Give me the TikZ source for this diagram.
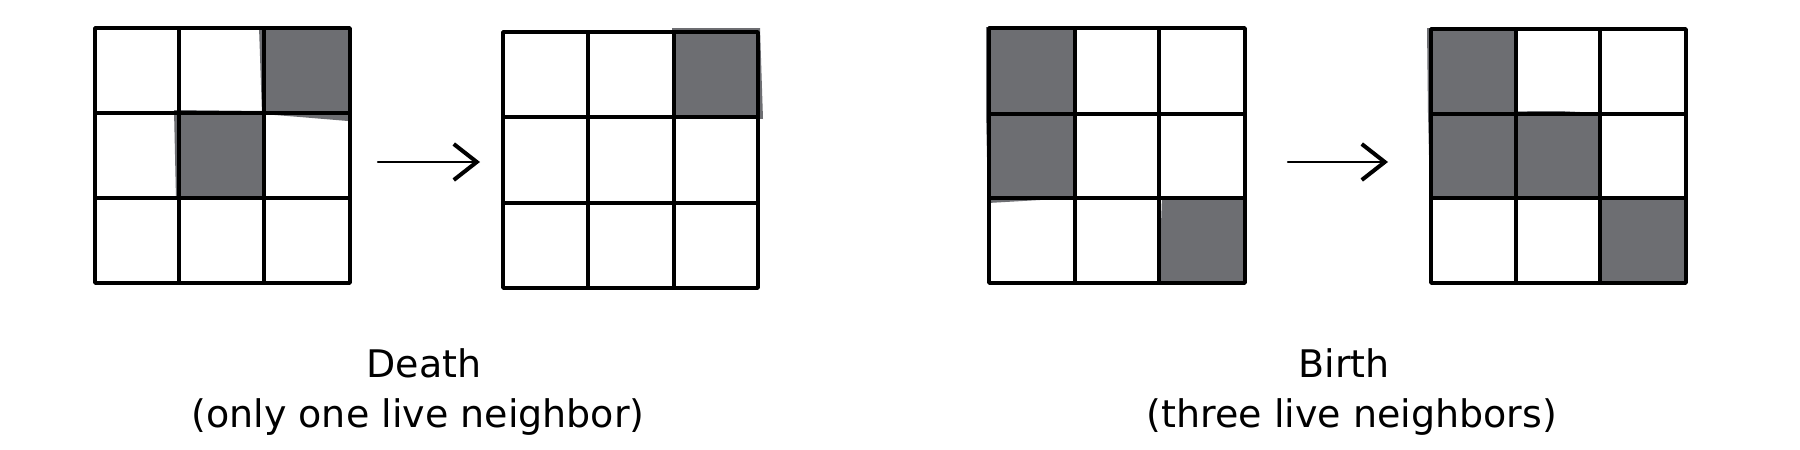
\documentclass[tikz,border=0pt]{standalone}
\usepackage{fontspec}
\setmainfont{DejaVu Sans}
\usetikzlibrary{arrows.meta}
\definecolor{cellgray}{RGB}{109,110,114}
\tikzset{
  gline/.style={draw=black, line width=3.7pt, line cap=round, line join=round},
  livecell/.style={fill=cellgray, draw=none},
  gridbox/.style={draw=none, minimum width=255pt, minimum height=255pt, inner sep=0pt},
  arrowline/.style={draw=black, line width=2.4pt, line cap=round,
    -{Straight Barb[length=23pt,width=36pt,line width=4pt]}},
  lbl/.style={font=\fontsize{38}{45}\selectfont, inner sep=0pt, anchor=base}
}
\newcommand{\lifelines}[8]{%
  \draw[gline] (#1,#5) rectangle (#4,#8);
  \draw[gline] (#2,#5) -- (#2,#8);
  \draw[gline] (#3,#5) -- (#3,#8);
  \draw[gline] (#1,#6) -- (#4,#6);
  \draw[gline] (#1,#7) -- (#4,#7);
}
\begin{document}
\begin{tikzpicture}[x=1pt,y=-1pt]
\useasboundingbox[fill=white] (0,0) rectangle (1800,450);

% ---------- grid 1 (Death, before)
\node[gridbox] (g1) at (222.5,155.5) {};
\fill[livecell] (259,27) -- (350,27) -- (348,121) -- (300,117) -- (262,114) -- cycle;
\fill[livecell] (174,110) -- (264,111) -- (264,199) -- (176,199) -- cycle;
\lifelines{95}{179}{264}{350}{28}{113}{198}{283}

% ---------- grid 2 (Death, after)
\node[gridbox] (g2) at (630.5,160) {};
\fill[livecell] (672,28) -- (760,28) -- (763,119) -- (674,117) -- cycle;
\lifelines{503}{588}{674}{758}{32}{117}{203}{288}

% ---------- grid 3 (Birth, before)
\node[gridbox] (g3) at (1117,155.5) {};
\fill[livecell] (986,27) -- (1075,28) -- (1075,114) -- (986,115) -- cycle;
\fill[livecell] (986,112) -- (1075,114) -- (1075,198) -- (1040,200) -- (988,203) -- cycle;
\fill[livecell] (1162,196) -- (1245,197) -- (1245,283) -- (1159,283) -- cycle;
\lifelines{989}{1075}{1159}{1245}{28}{114}{198}{283}

% ---------- grid 4 (Birth, after)
\node[gridbox] (g4) at (1558.5,156) {};
\fill[livecell] (1427,28) -- (1516,28) -- (1516,114) -- (1428,114) -- cycle;
\fill[livecell] (1428,112) -- (1560,111) -- (1600,113) -- (1600,198) -- (1430,199) -- cycle;
\fill[livecell] (1600,197) -- (1686,198) -- (1686,283) -- (1600,283) -- cycle;
\lifelines{1431}{1516}{1600}{1686}{29}{114}{198}{283}

% ---------- arrows
\coordinate (a1s) at (378,162);
\coordinate (a1e) at (480,162);
\coordinate (a2s) at (1288,162);
\coordinate (a2e) at (1388,162);
\draw[arrowline] (a1s) -- (a1e);
\draw[arrowline] (a2s) -- (a2e);

% ---------- labels
\node[lbl] (t1) at (424,377) {Death};
\node[lbl] (t2) at (418,427) {(only one live neighbor)};
\node[lbl] (t3) at (1344,377) {Birth};
\node[lbl] (t4) at (1352,427) {(three live neighbors)};
\end{tikzpicture}
\end{document}
